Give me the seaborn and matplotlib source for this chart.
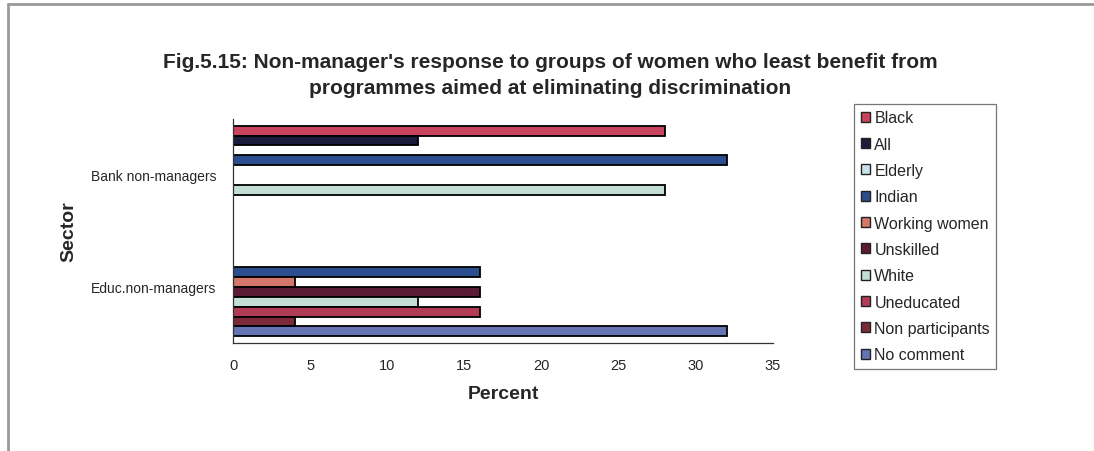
import matplotlib
matplotlib.use("Agg")
import matplotlib.pyplot as plt
from matplotlib.lines import Line2D
from matplotlib.patches import Patch
import seaborn as sns
import pandas as pd

sectors = ["Bank non-managers", "Educ.non-managers"]
groups = ["Black", "All", "Elderly", "Indian", "Working women", "Unskilled",
          "White", "Uneducated", "Non participants", "No comment"]
bank_values = [28, 12, 0, 32, 0, 0, 28, 0, 0, 0]
educ_values = [0, 0, 0, 16, 4, 16, 12, 16, 4, 32]
colors = ["#c9435d", "#1b1c3c", "#c6e2ea", "#2c4d8e", "#d5766a", "#5b1b35",
          "#c3ddd7", "#b03d55", "#7c2a3a", "#6474b4"]
x_ticks = [0, 5, 10, 15, 20, 25, 30, 35]

rows = []
for sec, vals in zip(sectors, [bank_values, educ_values]):
    for g, v in zip(groups, vals):
        rows.append({"Sector": sec, "Group": g, "Percent": v})
df = pd.DataFrame(rows)

sns.set_style("white")
plt.rcParams["font.family"] = ["Liberation Sans", "DejaVu Sans"]
narrow = ["Liberation Sans Narrow", "Liberation Sans", "DejaVu Sans"]

fig = plt.figure(figsize=(10.94, 4.52), dpi=100)
ax = fig.add_axes([0.213, 0.239, 0.4936, 0.4956])

sns.barplot(data=df, y="Sector", x="Percent", hue="Group", order=sectors,
            hue_order=groups, palette=colors, orient="h", width=0.88,
            edgecolor="black", linewidth=1.3, saturation=1, legend=False, ax=ax)

ax.set_xlim(0, 35)
ax.set_xticks(x_ticks)
ax.set_xticklabels([str(t) for t in x_ticks], fontsize=10.5)
ax.set_ylim(1.5, -0.5)
ax.set_yticks([-0.5, 0.5, 1.5], minor=False)
ax.set_yticklabels([])
ax.set_yticks([0, 1], minor=True)
ax.set_yticklabels(sectors, minor=True, fontsize=10)
ax.tick_params(axis="y", which="minor", length=0, pad=12)
ax.tick_params(axis="y", which="major", length=5, direction="out", width=0.8)
ax.tick_params(axis="x", length=6, direction="inout", width=0.8, pad=8)

for side in ["top", "right"]:
    ax.spines[side].set_visible(False)
for side in ["left", "bottom"]:
    ax.spines[side].set_color("#333333")
    ax.spines[side].set_linewidth(0.9)

ax.set_xlabel("Percent", fontsize=14, fontweight="bold", family=narrow, labelpad=9)
ax.set_ylabel("Sector", fontsize=14, fontweight="bold", family=narrow, labelpad=10)

fig.text(0.503, 0.862, "Fig.5.15: Non-manager's response to groups of women who least benefit from",
         ha="center", va="center", fontsize=15, fontweight="bold", family=narrow)
fig.text(0.503, 0.805, "programmes aimed at eliminating discrimination",
         ha="center", va="center", fontsize=15, fontweight="bold", family=narrow)

handles = [Patch(facecolor=c, edgecolor="#222222", linewidth=1.0, label=g)
           for c, g in zip(colors, groups)]
leg = fig.legend(handles=handles, loc="upper left", bbox_to_anchor=(0.781, 0.768),
                 frameon=True, fancybox=False, fontsize=11.5, handlelength=0.6,
                 handleheight=0.6, handletextpad=0.25, labelspacing=0.71,
                 borderpad=0.4, borderaxespad=0)
leg.get_frame().set_edgecolor("#555555")
leg.get_frame().set_linewidth(0.9)

# outer chart frame
fig.add_artist(Line2D([0.007, 0.007], [0.0, 0.988], color="#999999", lw=2.0,
                      transform=fig.transFigure))
fig.add_artist(Line2D([0.007, 1.0], [0.988, 0.988], color="#999999", lw=2.0,
                      transform=fig.transFigure))

fig.savefig("out.png", dpi=100)
